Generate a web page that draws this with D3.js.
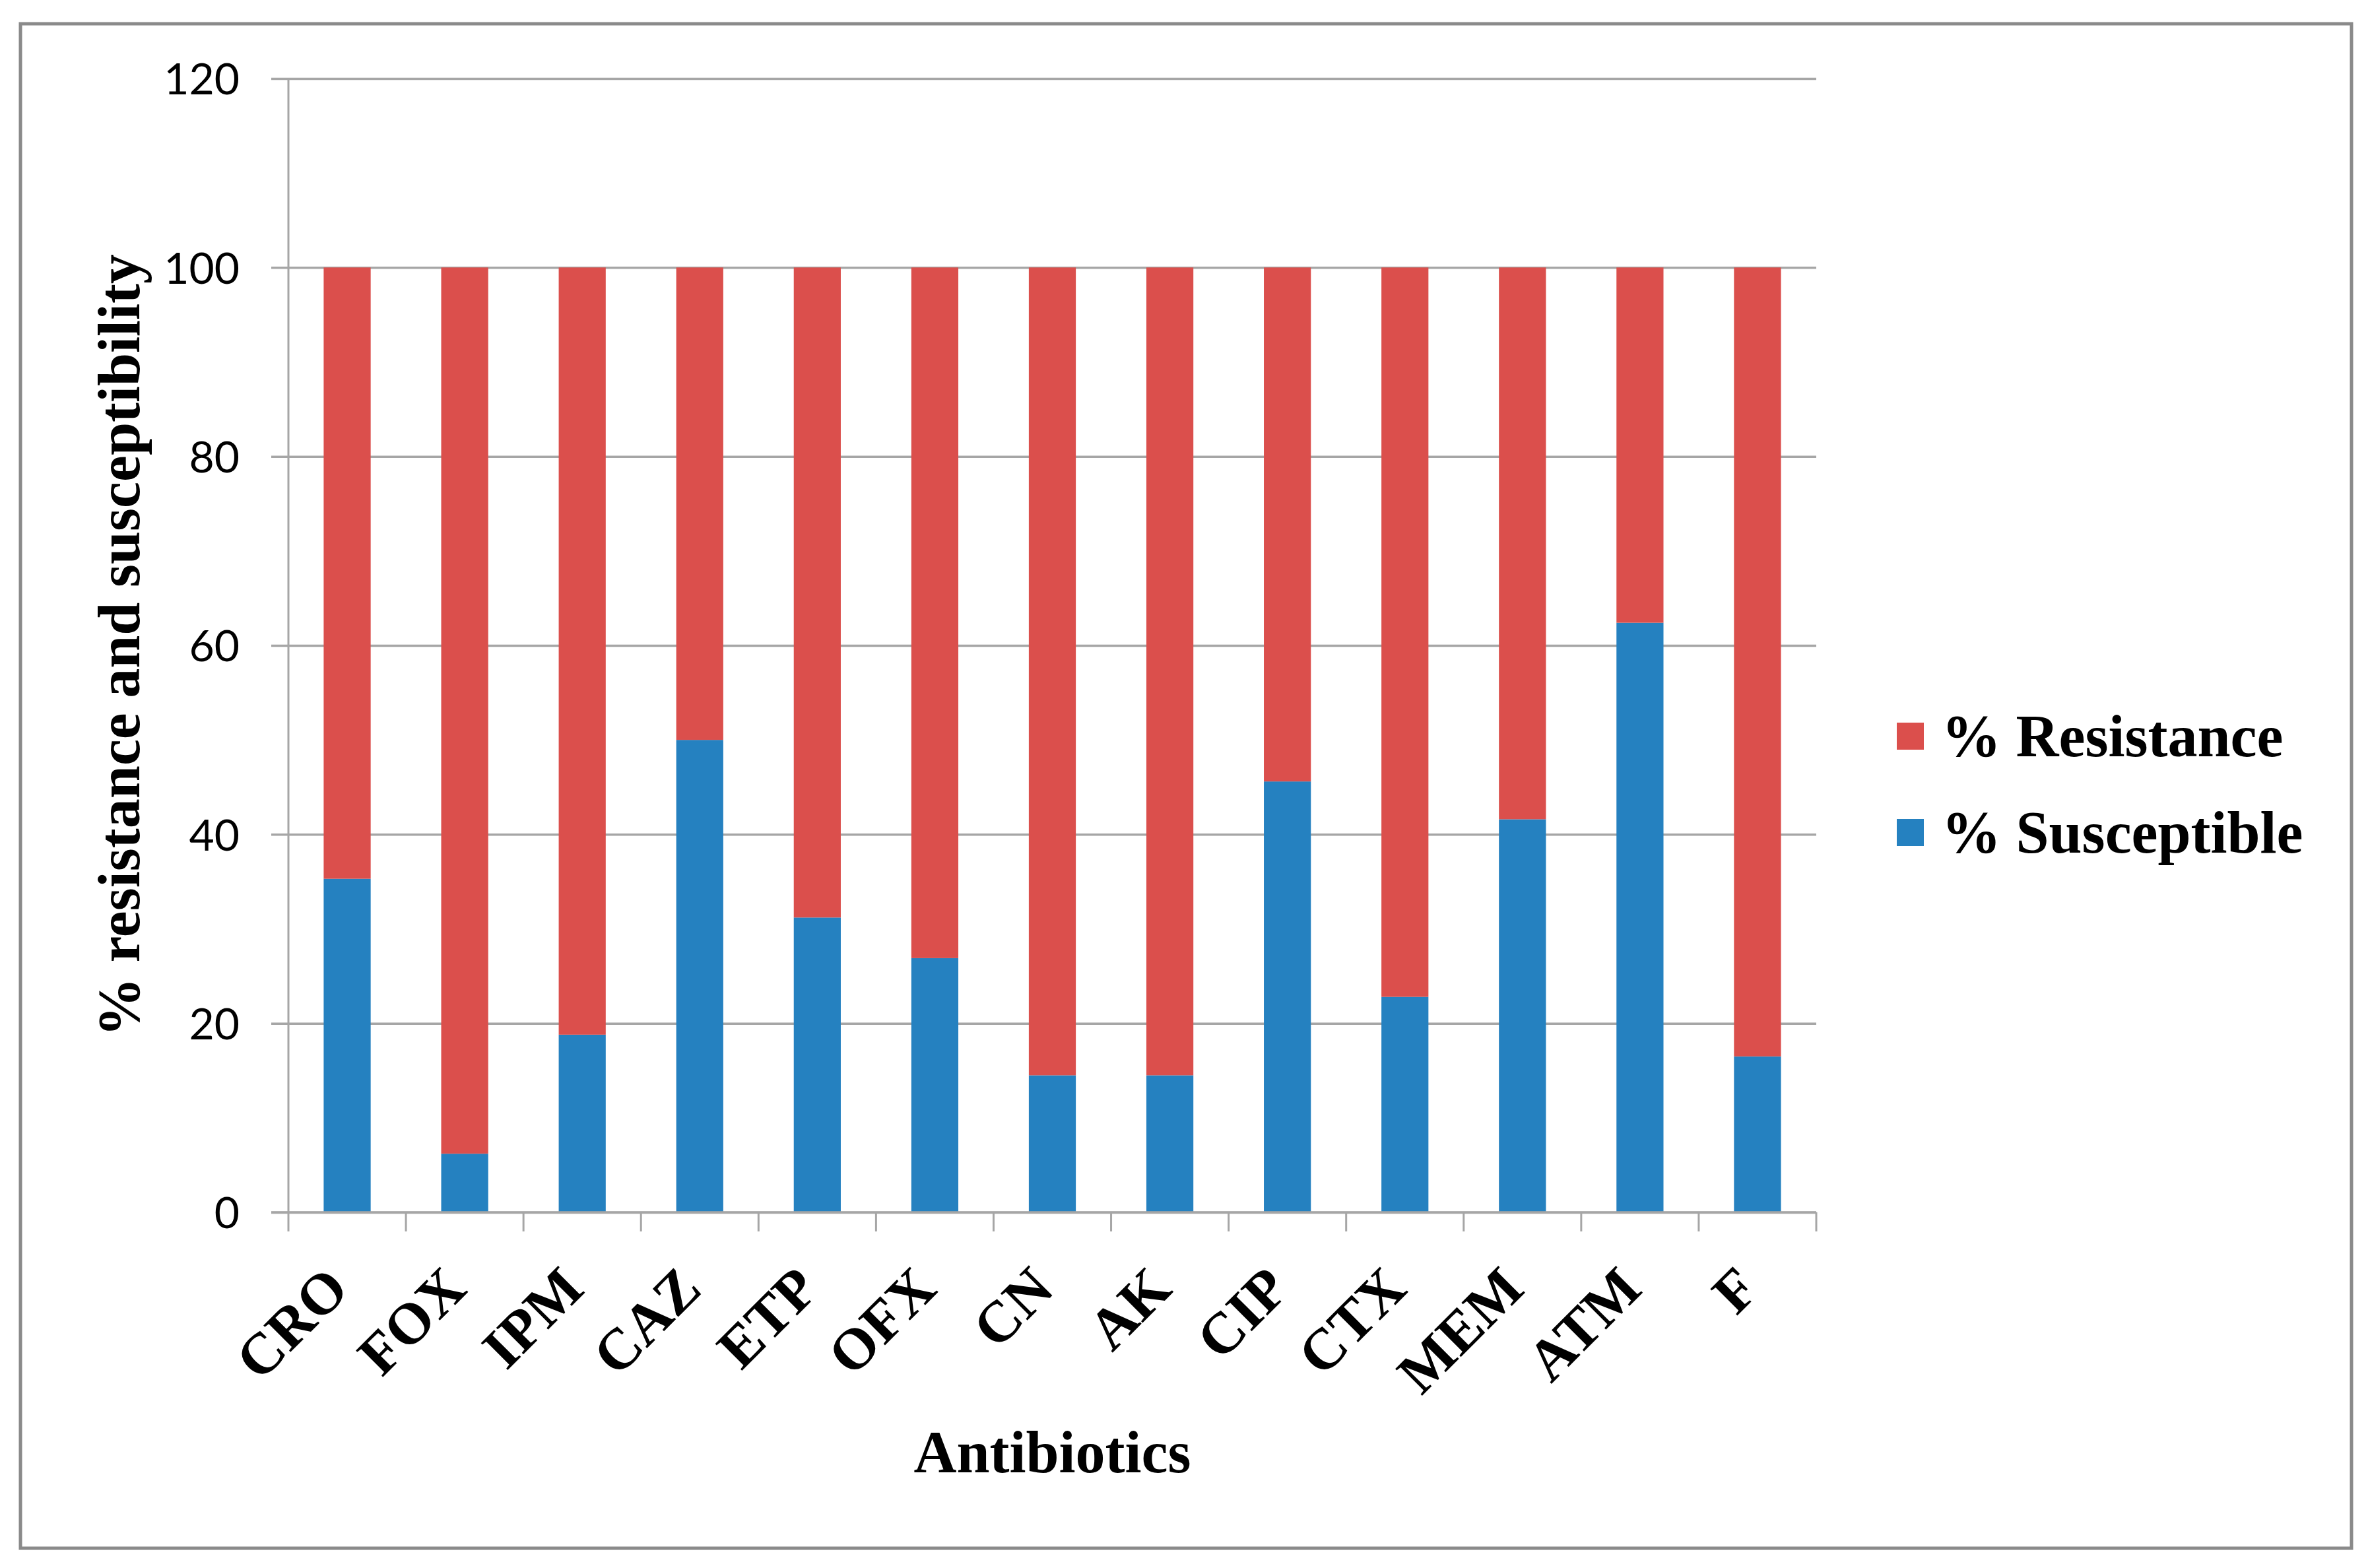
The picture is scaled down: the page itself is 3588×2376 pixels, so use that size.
<!DOCTYPE html>
<html>
<head>
<meta charset="utf-8">
<script src="https://cdn.jsdelivr.net/npm/d3@7"></script>
<style>
  html, body { margin: 0; padding: 0; background: #fff; }
  svg { display: block; }
</style>
</head>
<body>
<svg id="chart" width="3588" height="2376"></svg>
<script>
const categories = ["CRO","FOX","IPM","CAZ","ETP","OFX","CN","AK","CIP","CTX","MEM","ATM","F"];
const susceptible = [35.3, 6.2, 18.8, 50.0, 31.2, 26.9, 14.5, 14.5, 45.6, 22.8, 41.6, 62.4, 16.5];
const resistance  = [64.7, 93.8, 81.2, 50.0, 68.8, 73.1, 85.5, 85.5, 54.4, 77.2, 58.4, 37.6, 83.5];
const seriesNames = ["% Resistance", "% Susceptible"];
const seriesColors = ["#DB4F4C", "#2581C0"];
const yTicks = [0, 20, 40, 60, 80, 100, 120];

const svg = d3.select("#chart");
const plot = { left: 437, right: 2752, top: 119, bottom: 1837 };

// outer frame
svg.append("rect")
  .attr("x", 31).attr("y", 36).attr("width", 3532).attr("height", 2310)
  .attr("fill", "#fff").attr("stroke", "#8a8a8a").attr("stroke-width", 5);

const x = d3.scaleBand().domain(categories).range([plot.left, plot.right])
  .paddingInner(0.6).paddingOuter(0.3);
const y = d3.scaleLinear().domain([0, 120]).range([plot.bottom, plot.top]);

const gridColor = "#a6a6a6";

// gridlines + y axis
const yAxis = d3.axisLeft(y).tickValues(yTicks).tickSize(plot.right - plot.left + 26).tickSizeOuter(0)
  .tickFormat(d3.format("d")).tickPadding(48);
const gy = svg.append("g").attr("transform", `translate(${plot.right},0)`).call(yAxis);
gy.select(".domain").remove();
gy.selectAll(".tick line").attr("stroke", gridColor).attr("stroke-width", 3.5);
gy.selectAll(".tick text")
  .attr("font-family", "Lato, 'Open Sans', sans-serif")
  .attr("font-size", 66).attr("fill", "#000").attr("dy", "0.36em");

// y axis line
svg.append("line").attr("x1", plot.left).attr("x2", plot.left)
  .attr("y1", plot.top).attr("y2", plot.bottom)
  .attr("stroke", gridColor).attr("stroke-width", 3);

// stacked data
const rows = categories.map((c, i) => ({ cat: c, sus: susceptible[i], res: resistance[i] }));
const stacked = d3.stack().keys(["sus", "res"])(rows);
const colorByKey = { sus: seriesColors[1], res: seriesColors[0] };

svg.append("g").selectAll("g").data(stacked).join("g")
  .attr("fill", d => colorByKey[d.key])
  .selectAll("rect").data(d => d).join("rect")
  .attr("x", d => x(d.data.cat))
  .attr("width", x.bandwidth())
  .attr("y", d => y(d[1]))
  .attr("height", d => y(d[0]) - y(d[1]));

// x axis
const step = x.step();
const boundaries = d3.range(categories.length + 1).map(i => plot.left + i * step);
const gx = svg.append("g");
gx.append("line").attr("x1", plot.left - 26).attr("x2", plot.right)
  .attr("y1", plot.bottom).attr("y2", plot.bottom)
  .attr("stroke", gridColor).attr("stroke-width", 3.5);
gx.selectAll("line.tk").data(boundaries).join("line").attr("class", "tk")
  .attr("x1", d => d).attr("x2", d => d)
  .attr("y1", plot.bottom).attr("y2", plot.bottom + 29)
  .attr("stroke", gridColor).attr("stroke-width", 3);

gx.selectAll("text").data(categories).join("text")
  .attr("transform", d => `translate(${x(d) + x.bandwidth() / 2 + 6},${plot.bottom + 120}) rotate(-45)`)
  .attr("text-anchor", "end")
  .attr("font-family", "'Liberation Serif', 'Times New Roman', serif")
  .attr("font-weight", "bold").attr("font-size", 88).attr("fill", "#000")
  .text(d => d);

// axis titles
svg.append("text")
  .attr("x", (plot.left + plot.right) / 2).attr("y", 2231)
  .attr("text-anchor", "middle")
  .attr("font-family", "'Liberation Serif', 'Times New Roman', serif")
  .attr("font-weight", "bold").attr("font-size", 90).attr("fill", "#000")
  .text("Antibiotics");

svg.append("text")
  .attr("transform", `translate(211,${(plot.top + plot.bottom) / 2}) rotate(-90)`)
  .attr("text-anchor", "middle")
  .attr("font-family", "'Liberation Serif', 'Times New Roman', serif")
  .attr("font-weight", "bold").attr("font-size", 90).attr("fill", "#000")
  .text("% resistance and susceptibility");

// legend
const legend = svg.append("g");
const legendY = [1116, 1262];
seriesNames.forEach((name, i) => {
  legend.append("rect").attr("x", 2874).attr("y", legendY[i] - 21)
    .attr("width", 41).attr("height", 41).attr("fill", seriesColors[i]);
  legend.append("text").attr("x", 2942).attr("y", legendY[i] + 30)
    .attr("font-family", "'Liberation Serif', 'Times New Roman', serif")
    .attr("font-weight", "bold").attr("font-size", 90).attr("fill", "#000")
    .text(name);
});
</script>
</body>
</html>
